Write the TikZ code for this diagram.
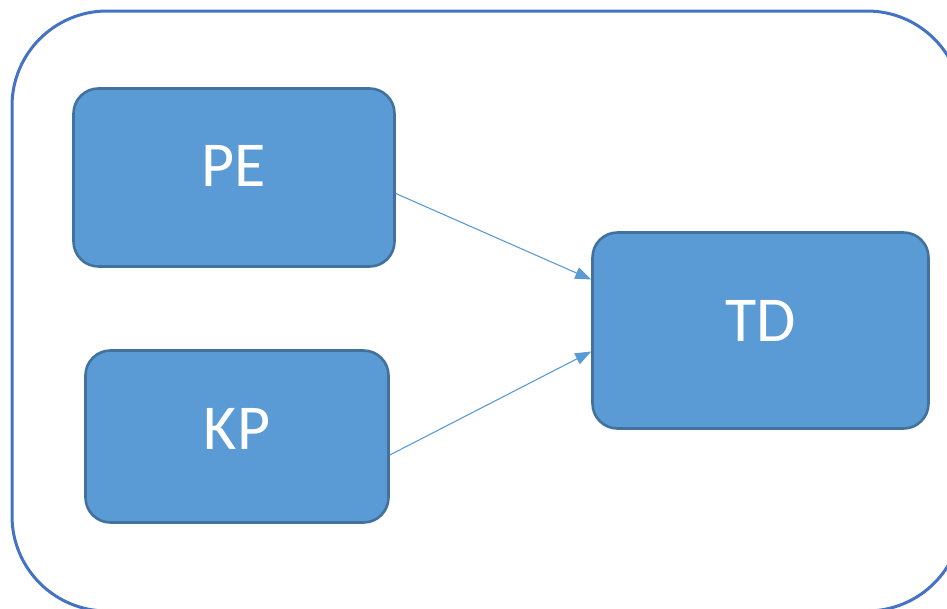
\documentclass[tikz,border=0pt]{standalone}
\usepackage{fontspec}
\setmainfont{Carlito}
\usetikzlibrary{arrows.meta}
\definecolor{boxfill}{HTML}{5B9BD5}
\definecolor{boxline}{HTML}{41719C}
\definecolor{outerline}{HTML}{4472C4}
\begin{document}
\begin{tikzpicture}[x=1pt,y=-1pt,
  stepbox/.style={draw=boxline, line width=2.6pt, fill=boxfill, rounded corners=25pt, inner sep=0pt},
  lbl/.style={text=white, font=\fontsize{64}{64}\selectfont, inner sep=0pt},
  conn/.style={draw=boxfill, line width=1.1pt, -{Triangle[length=16pt,width=12pt]}}]
\useasboundingbox (0,0) rectangle (947,608);
\node[draw=outerline, line width=3pt, rounded corners=95pt, minimum width=950pt, minimum height=600pt, inner sep=0pt] (outer) at (487,311) {};
\node[stepbox, minimum width=321pt, minimum height=178pt] (PE) at (234,177.5) {};
\node[stepbox, minimum width=303pt, minimum height=172pt] (KP) at (237,436.5) {};
\node[stepbox, minimum width=336pt, minimum height=196pt] (TD) at (760.5,330.5) {};
\node[lbl] (PEt) at ([yshift=12pt]PE.center) {PE};
\node[lbl] (KPt) at ([yshift=8pt]KP.center) {KP};
\node[lbl] (TDt) at ([yshift=10pt]TD.center) {TD};
\coordinate (PEs) at ([yshift=-16pt]PE.east);
\coordinate (KPs) at ([yshift=-18.5pt]KP.east);
\coordinate (TDa) at ([yshift=51pt]TD.west);
\coordinate (TDb) at ([yshift=-21pt]TD.west);
\draw[conn] (PEs) -- (TDa);
\draw[conn] (KPs) -- (TDb);
\end{tikzpicture}
\end{document}
